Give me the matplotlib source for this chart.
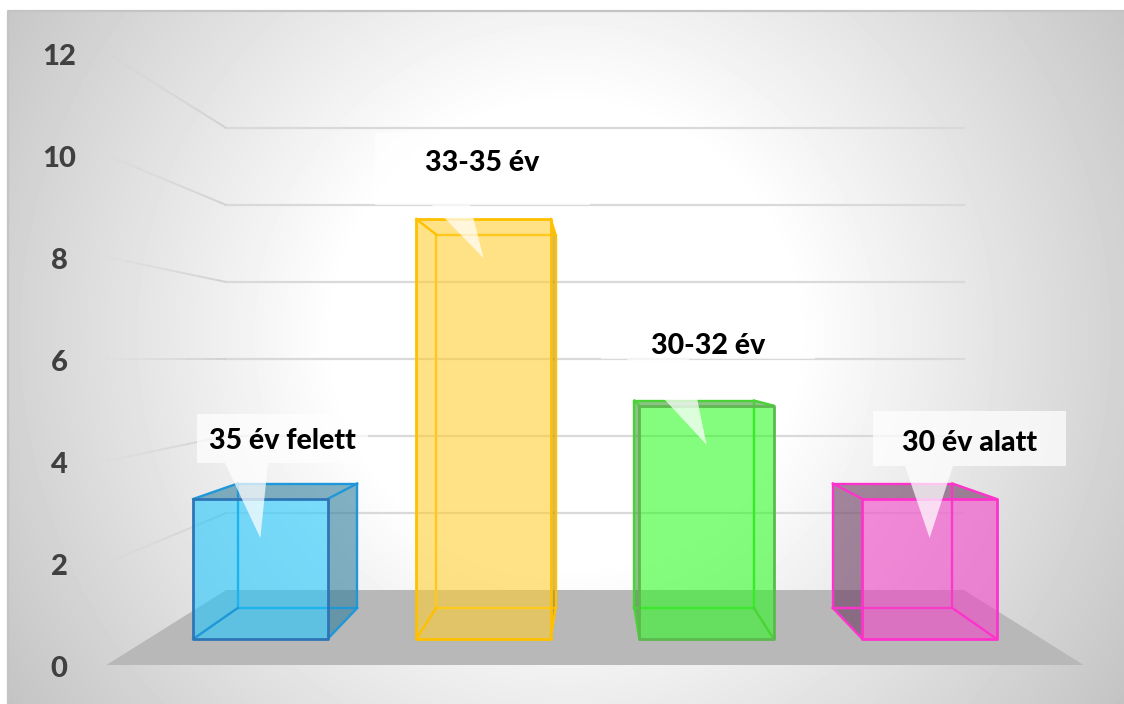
import numpy as np
import matplotlib
matplotlib.use("Agg")
import matplotlib.pyplot as plt
from matplotlib.patches import Polygon

plt.rcParams['font.family'] = ['Lato', 'DejaVu Sans']

# data
categories = ['35 év felett', '33-35 év', '30-32 év', '30 év alatt']
values = [3, 9, 5, 3]
axis_ticks = [0, 2, 4, 6, 8, 10, 12]

# colours per bar: face, side, front edge, back edge
face_colors = ['#1fc8ff', '#ffce2e', '#2cfb20', '#f440c8']
side_colors = ['#2f7f9c', '#a88a20', '#3f9a35', '#6b3a60']
front_edges = ['#2e75b6', '#ffc000', '#5cb84f', '#ff33cc']
back_edges = ['#1f97d8', '#ffc000', '#4ad336', '#ff33cc']

# callout boxes: left, right, top, bottom, tail left, tail right
callouts = [(197, 368, 414, 463, 225, 268),
            (375, 590, 133, 205, 432, 470),
            (601, 815, 322, 359, 627, 689),
            (873, 1066, 411, 466, 905, 953)]
text_y = [441, 163, 346, 443]

# perspective of the 3d chart, in pixels per value unit
VANISH_X = 595
EYE_LEVEL = 6
EYE_Y = 359
FLOOR_FRONT = 51
FLOOR_BACK = 38.5
BAR_FRONT = 46.67
BAR_BACK = 41.5
WALL_X = 9.58
BAR_STEP = 4.78
BAR_HALF = 1.44


def project(x, v, s):
    return VANISH_X + x * s, EYE_Y + (EYE_LEVEL - v) * s


fig = plt.figure(figsize=(11.24, 7.04), dpi=100)
ax = fig.add_axes([0, 0, 1, 1])

# background
xx, yy = np.meshgrid(np.arange(8, 1124), np.arange(10, 704))
r = np.hypot(xx - 565, yy - 335)
shade = 1 - 0.24 * np.clip(r - 230, 0, None) / 450
ax.imshow(shade, cmap='gray', vmin=0, vmax=1, extent=(8, 1124, 704, 10), aspect='auto', zorder=0)
ax.set_xlim(0, 1124)
ax.set_ylim(704, 0)
ax.axis('off')
ax.plot([8, 8, 1124], [704, 11, 11], color='#c4c4c4', lw=1.6, zorder=1)

# floor
floor = [project(-WALL_X, 0, FLOOR_FRONT), project(WALL_X, 0, FLOOR_FRONT),
         project(WALL_X, 0, FLOOR_BACK), project(-WALL_X, 0, FLOOR_BACK)]
ax.add_patch(Polygon(floor, closed=True, fc='#b8b8b8', ec='none', zorder=2))

# gridlines on the back wall and fading on the left wall
for t in axis_ticks[1:]:
    x0, y0 = project(-WALL_X, t, FLOOR_BACK)
    x1, y1 = project(WALL_X, t, FLOOR_BACK)
    ax.plot([x0, x1], [y0, y1], color='#d9d9d9', lw=1.6, zorder=3)
    x2, y2 = project(-WALL_X, t, FLOOR_FRONT)
    steps = np.linspace(0, 1, 13)
    for a, b in zip(steps[:-1], steps[1:]):
        ax.plot([x2 + (x0 - x2) * a, x2 + (x0 - x2) * b], [y2 + (y0 - y2) * a, y2 + (y0 - y2) * b],
                color='#cfcfcf', alpha=b * 0.9, lw=1.4, solid_capstyle='butt', zorder=3)

# bars
for i, v in enumerate(values):
    cx = (i - 1.5) * BAR_STEP
    left, right = cx - BAR_HALF, cx + BAR_HALF
    fb0 = project(left, 0, BAR_FRONT)
    fb1 = project(right, 0, BAR_FRONT)
    ft1 = project(right, v, BAR_FRONT)
    ft0 = project(left, v, BAR_FRONT)
    bb0 = project(left, 0, BAR_BACK)
    bb1 = project(right, 0, BAR_BACK)
    bt1 = project(right, v, BAR_BACK)
    bt0 = project(left, v, BAR_BACK)

    # right side shows left of the centre, left side shows right of it
    if cx < 0:
        side = [fb1, bb1, bt1, ft1]
    else:
        side = [fb0, bb0, bt0, ft0]
    ax.add_patch(Polygon(side, closed=True, fc=side_colors[i], ec='none', alpha=0.6, zorder=4))
    if v < EYE_LEVEL:
        ax.add_patch(Polygon([ft0, ft1, bt1, bt0], closed=True, fc=side_colors[i], ec='none', alpha=0.6, zorder=4))

    back = [bb0, bb1, bt1, bt0, bb0]
    ax.plot([p[0] for p in back], [p[1] for p in back], color=back_edges[i], lw=1.7, zorder=5)
    ax.add_patch(Polygon([fb0, fb1, ft1, ft0], closed=True, fc=face_colors[i], ec='none', alpha=0.58, zorder=6))
    for a, b in ((fb0, bb0), (fb1, bb1), (ft0, bt0), (ft1, bt1)):
        ax.plot([a[0], b[0]], [a[1], b[1]], color=back_edges[i], lw=1.7, zorder=7)
    ax.add_patch(Polygon([fb0, fb1, ft1, ft0], closed=True, fc='none', ec=front_edges[i], lw=2, joinstyle='round', zorder=7))

    # data callout with tail pointing into the bar
    l, r_, t, b, tl, tr = callouts[i]
    tip = (project(cx, 0, BAR_FRONT)[0], ft0[1] + 39)
    ax.add_patch(Polygon([(l, t), (r_, t), (r_, b), (tr, b), tip, (tl, b), (l, b)], closed=True,
                         fc='white', ec='none', alpha=0.72, zorder=8))
    ax.text((l + r_) / 2 if i != 0 else 282, text_y[i], categories[i], fontsize=20.5, fontweight=900,
            color='black', ha='center', va='center', zorder=9)

# value axis labels
for t in axis_ticks:
    lx, ly = project(-WALL_X, t, FLOOR_FRONT)
    ax.text(59, ly + 4, str(t), fontsize=21, fontweight=900, color='#404040', ha='center', va='center', zorder=9)

fig.savefig('out.png', dpi=100)
